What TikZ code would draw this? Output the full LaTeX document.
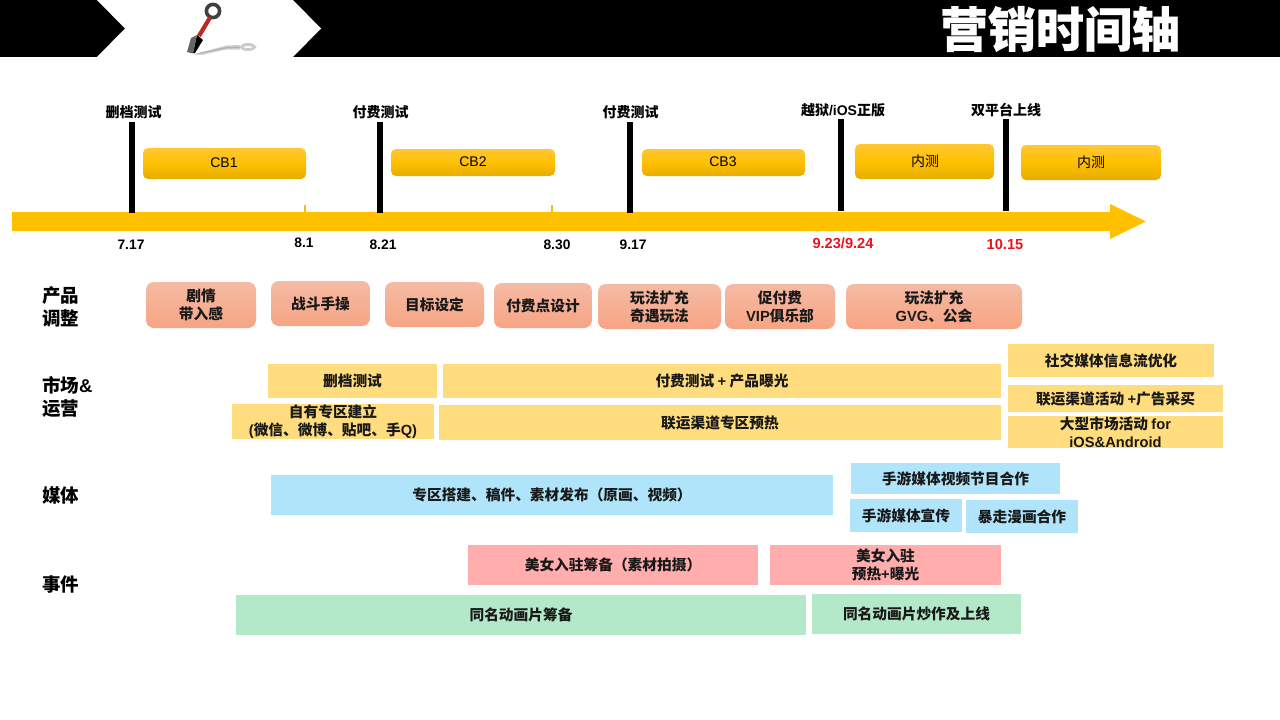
\documentclass[tikz,border=0pt]{standalone}
\usepackage{fontspec}
\setmainfont{Noto Sans CJK SC}
\newfontfamily\enfont{Liberation Sans}
\newcommand{\en}[1]{{\enfont\bfseries #1}}
\definecolor{amber}{HTML}{FFC000}
\definecolor{ambertop}{HTML}{FFC733}
\definecolor{amberlow}{HTML}{E6AD00}
\definecolor{salmontop}{HTML}{F5BBA4}
\definecolor{salmonlow}{HTML}{F6A484}
\definecolor{mkt}{HTML}{FFDC7D}
\definecolor{media}{HTML}{AFE4FA}
\definecolor{pinkbox}{HTML}{FFADAD}
\definecolor{greenbox}{HTML}{B3E8C9}
\definecolor{datered}{HTML}{E8141E}
\tikzset{
  x=1pt,y=-1pt,
  txt/.style={font=\bfseries\fontsize{14.7}{18}\selectfont,align=center,inner sep=0pt,text=black!90},
  cb/.style={rounded corners=5pt,top color=ambertop,bottom color=amberlow,middle color=amber,draw=none},
  prod/.style={rounded corners=8pt,top color=salmontop,bottom color=salmonlow,draw=none},
  mktbox/.style={fill=mkt},
  mediabox/.style={fill=media},
  pinkb/.style={fill=pinkbox},
  greenb/.style={fill=greenbox},
  bar/.style={fill=black},
  datelab/.style={font=\enfont\bfseries\fontsize{13.8}{15}\selectfont,inner sep=0pt},
  redlab/.style={font=\enfont\bfseries\fontsize{14.6}{15}\selectfont,inner sep=0pt,text=datered},
  toplab/.style={font=\bfseries\fontsize{14}{16}\selectfont,inner sep=0pt},
  rowlab/.style={font=\bfseries\fontsize{18.5}{22.5}\selectfont,inner sep=0pt,align=left,anchor=west},
  cbtxt/.style={font=\fontsize{14}{17}\selectfont,inner sep=0pt}
}
% \bx{name}{style}{x0}{y0}{x1}{y1}{text}
\newcommand{\bx}[7]{%
  \path[#2] (#3,#4) rectangle (#5,#6);
  \node[txt] (#1) at ({(#3+#5)/2},{(#4+#6)/2}) {#7};
}
\begin{document}
\begin{tikzpicture}
\useasboundingbox (0,0) rectangle (1280,720);
\fill[white] (0,0) rectangle (1280,720);
% header
\fill[black] (0,0) rectangle (1280,57);
\fill[white] (97,0) -- (125,28.5) -- (97,57) -- (293,57) -- (321,28.5) -- (293,0) -- cycle;
% kunai icon
\fill[black!18] (194,54.5) -- (226,45.5) -- (240,45) -- (240,49.5) -- (226,49.5) -- (202,55) -- cycle;
\fill[black!30] (196,53.5) -- (226,47) -- (240,46.5) -- (240,48) -- (226,48.5) -- (201,53.5) -- cycle;
\draw[black!20,line width=3pt] (248,47) ellipse (6.5 and 2.5);
\draw[line width=3.6pt,black!75] (213,11) circle (6.6);
\draw[line width=4.2pt,color={rgb,255:red,190;green,40;blue,35}] (210,17.5) -- (199,36);
\fill[black] (197,35) -- (203,40) -- (195,53) -- (193,53) -- cycle;
\fill[black!60] (191,38) -- (197,35) -- (193,53.5) -- (187,52) -- cycle;
% title
\node[inner sep=0pt,text=white,font=\bfseries\fontsize{48}{50}\selectfont\addfontfeature{FakeBold=0.6}] (title) at (1060,29) {营销时间轴};
% timeline
\fill[amber] (12,212) -- (1110,212) -- (1110,204) -- (1146,221.5) -- (1110,239) -- (1110,231) -- (12,231) -- cycle;
\fill[amber] (304,205) rectangle (305.5,212);
\fill[amber] (551,205) rectangle (552.5,212);
\fill[bar] (129,122) rectangle (135,213);
\fill[bar] (377,122) rectangle (383,213);
\fill[bar] (627,122) rectangle (633,213);
\fill[bar] (838,119) rectangle (844,211);
\fill[bar] (1003,119) rectangle (1009,211);
% top labels
\node[toplab] (t1) at (133.5,112) {删档测试};
\node[toplab] (t2) at (380.5,112) {付费测试};
\node[toplab] (t3) at (630.5,112) {付费测试};
\node[toplab] (t4) at (843,110) {越狱\en{/iOS}正版};
\node[toplab] (t5) at (1006,110) {双平台上线};
% CB boxes
\path[cb] (143,148) rectangle (306,179);
\node[cbtxt] (cb1) at (224,162.5) {\enfont CB1};
\path[cb] (391,149) rectangle (555,176);
\node[cbtxt] (cb2) at (473,162) {\enfont CB2};
\path[cb] (642,149) rectangle (805,176);
\node[cbtxt] (cb3) at (723,162) {\enfont CB3};
\path[cb] (855,144) rectangle (994,179);
\node[cbtxt] (n1) at (925,161) {内测};
\path[cb] (1021,145) rectangle (1161,180);
\node[cbtxt] (n2) at (1091,162) {内测};
% dates
\node[datelab] (d1) at (131,245) {7.17};
\node[datelab] (d2) at (304,243) {8.1};
\node[datelab] (d3) at (383,245) {8.21};
\node[datelab] (d4) at (557,245) {8.30};
\node[datelab] (d5) at (633,245) {9.17};
\node[redlab] (d6) at (843,243) {9.23/9.24};
\node[redlab] (d7) at (1005,244) {10.15};
% row labels
\node[rowlab] (r1) at (42,307) {产品\\调整};
\node[rowlab] (r2) at (42,397) {市场\en{\&}\\运营};
\node[rowlab] (r3) at (42,495) {媒体};
\node[rowlab] (r4) at (42,584) {事件};
% product
\bx{p1}{prod}{146}{282}{256}{328}{剧情\\带入感}
\bx{p2}{prod}{271}{281}{370}{326}{战斗手操}
\bx{p3}{prod}{385}{282}{484}{327}{目标设定}
\bx{p4}{prod}{494}{283}{592}{328}{付费点设计}
\bx{p5}{prod}{598}{284}{721}{329}{玩法扩充\\奇遇玩法}
\bx{p6}{prod}{725}{284}{835}{329}{促付费\\\en{VIP}俱乐部}
\bx{p7}{prod}{846}{284}{1022}{329}{玩法扩充\\\en{GVG}、公会}
% market
\bx{m1}{mktbox}{268}{364}{437}{398}{删档测试}
\bx{m2}{mktbox}{443}{364}{1001}{398}{付费测试 \en{+} 产品曝光}
\bx{m3}{mktbox}{232}{404}{434}{439}{自有专区建立\\\en{(}微信、微博、贴吧、手\en{Q)}}
\bx{m4}{mktbox}{439}{405}{1001}{440}{联运渠道专区预热}
\bx{m5}{mktbox}{1008}{344}{1214}{377}{社交媒体信息流优化}
\bx{m6}{mktbox}{1008}{385}{1223}{412}{联运渠道活动 \en{+}广告采买}
\bx{m7}{mktbox}{1008}{416}{1223}{448}{大型市场活动 \en{for}\\\en{iOS\&Android}}
% media
\bx{e1}{mediabox}{271}{475}{833}{515}{专区搭建、稿件、素材发布（原画、视频）}
\bx{e2}{mediabox}{851}{463}{1060}{494}{手游媒体视频节目合作}
\bx{e3}{mediabox}{850}{499}{962}{532}{手游媒体宣传}
\bx{e4}{mediabox}{966}{500}{1078}{533}{暴走漫画合作}
% events
\bx{v1}{pinkb}{468}{545}{758}{585}{美女入驻筹备（素材拍摄）}
\bx{v2}{pinkb}{770}{545}{1001}{585}{美女入驻\\预热\en{+}曝光}
\bx{v3}{greenb}{236}{595}{806}{635}{同名动画片筹备}
\bx{v4}{greenb}{812}{594}{1021}{634}{同名动画片炒作及上线}
\end{tikzpicture}
\end{document}
